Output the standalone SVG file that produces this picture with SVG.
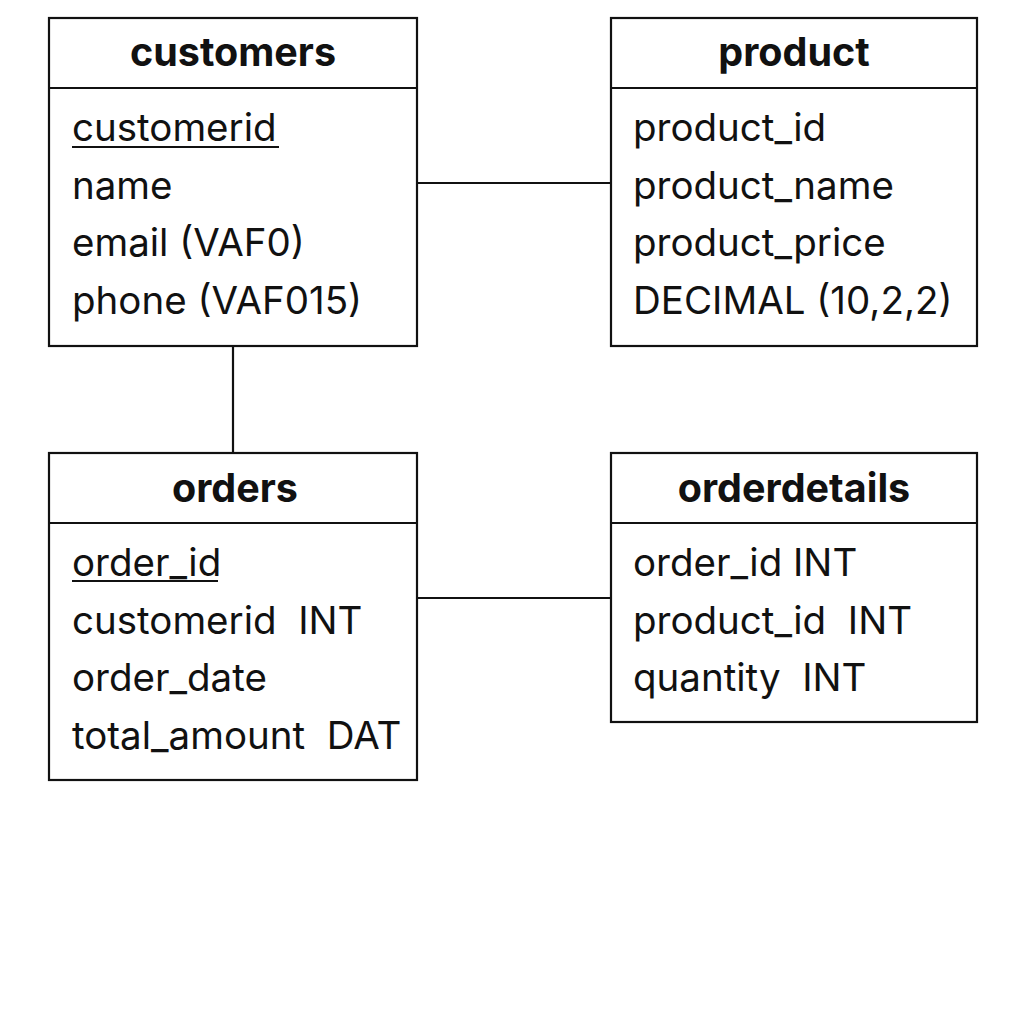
<svg xmlns="http://www.w3.org/2000/svg" width="1024" height="1024" viewBox="0 0 1024 1024">
<style>
.box{fill:#fff;stroke:#111;stroke-width:2.2}
.sep{stroke:#111;stroke-width:2.2}
.hd{font-family:Inter,"Noto Sans",sans-serif;font-weight:700;font-size:39.5px;fill:#111;text-anchor:middle}
.at{font-family:Inter,"Noto Sans",sans-serif;font-size:38.5px;fill:#111;white-space:pre}
.ul{stroke:#111;stroke-width:2}
.conn line{stroke:#111;stroke-width:2.2}
</style>
<rect width="1024" height="1024" fill="#fff"/>
<g class="conn">
<line x1="417" y1="183" x2="611" y2="183"/>
<line x1="233" y1="346" x2="233" y2="453"/>
<line x1="417" y1="598" x2="611" y2="598"/>
</g>
<g id="customers">
<rect class="box" x="49" y="18" width="368" height="328"/>
<line class="sep" x1="49" y1="88" x2="417" y2="88"/>
<text class="hd" x="233" y="66">customers</text>
<text class="at" x="72" y="141">customerid</text>
<line class="ul" x1="72" y1="147" x2="279" y2="147"/>
<text class="at" x="72" y="199">name</text>
<text class="at" x="72" y="256">email (VAF0)</text>
<text class="at" x="72" y="314">phone (VAF015)</text>
</g>
<g id="product">
<rect class="box" x="611" y="18" width="366" height="328"/>
<line class="sep" x1="611" y1="88" x2="977" y2="88"/>
<text class="hd" x="794" y="66">product</text>
<text class="at" x="633" y="141">product_id</text>
<text class="at" x="633" y="199">product_name</text>
<text class="at" x="633" y="256">product_price</text>
<text class="at" x="633" y="314">DECIMAL (10,2,2)</text>
</g>
<g id="orders">
<rect class="box" x="49" y="453" width="368" height="327"/>
<line class="sep" x1="49" y1="523" x2="417" y2="523"/>
<text class="hd" x="235" y="502">orders</text>
<text class="at" x="72" y="576">order_id</text>
<line class="ul" x1="72" y1="581" x2="218" y2="581"/>
<text class="at" x="72" y="634" xml:space="preserve">customerid  INT</text>
<text class="at" x="72" y="691">order_date</text>
<text class="at" x="72" y="749" xml:space="preserve">total_amount  DAT</text>
</g>
<g id="orderdetails">
<rect class="box" x="611" y="453" width="366" height="269"/>
<line class="sep" x1="611" y1="523" x2="977" y2="523"/>
<text class="hd" x="794" y="502">orderdetails</text>
<text class="at" x="633" y="576">order_id INT</text>
<text class="at" x="633" y="634" xml:space="preserve">product_id  INT</text>
<text class="at" x="633" y="691" xml:space="preserve">quantity  INT</text>
</g>
</svg>
